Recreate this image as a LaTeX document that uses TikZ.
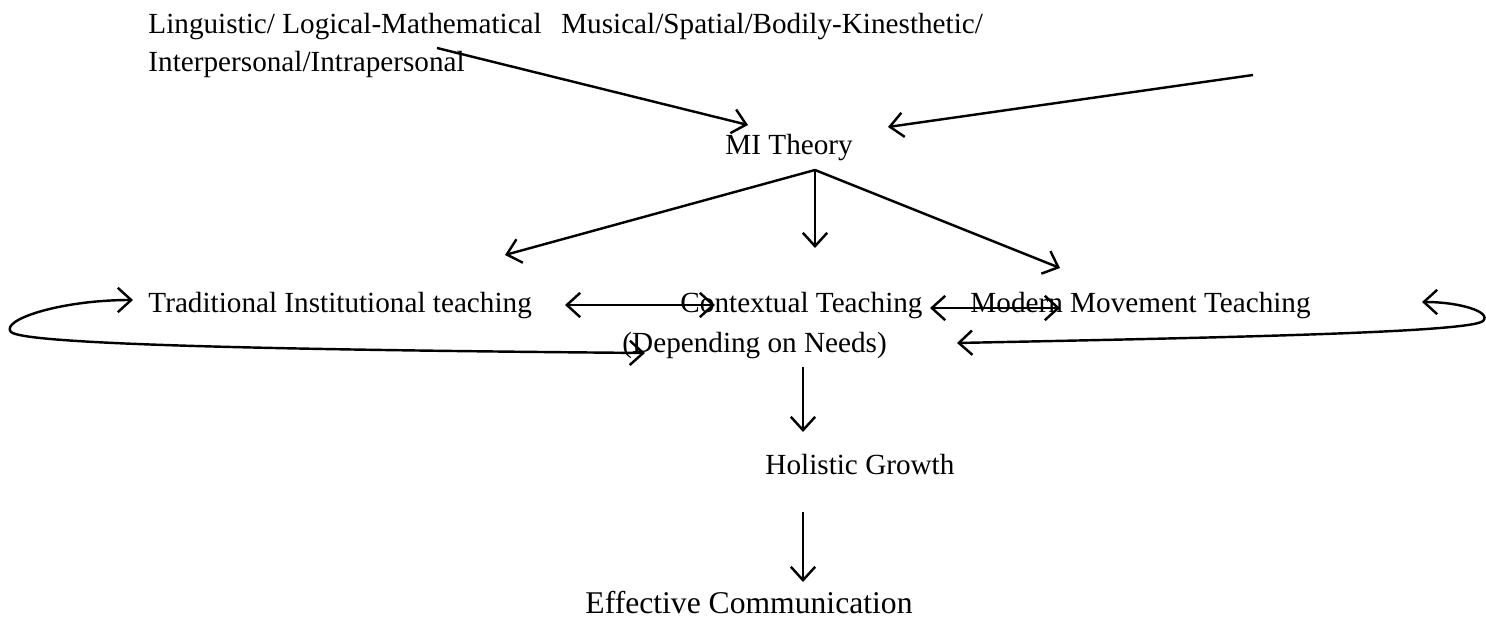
\documentclass[tikz,border=0pt]{standalone}
\usepackage{fontspec}
\setmainfont{Liberation Serif}
\usetikzlibrary{arrows.meta}
\begin{document}
\begin{tikzpicture}[x=0.411pt,y=-0.411pt,
  txt/.style={anchor=base west, inner sep=0pt, font=\fontsize{12}{14}\selectfont},
  arr/.style={-{Straight Barb[length=5.5pt,width=10pt]}, line width=1pt},
  darr/.style={{Straight Barb[length=5.5pt,width=10pt]}-{Straight Barb[length=5.5pt,width=10pt]}, line width=1pt}]
\useasboundingbox (0,0) rectangle (1486,625);
% texts
\node[txt] (ling) at (148,34) {Linguistic/ Logical-Mathematical\hspace{8pt}Musical/Spatial/Bodily-Kinesthetic/};
\node[txt] (intra) at (148,72) {Interpersonal/Intrapersonal};
\node[txt] (mi) at (725,155) {MI Theory};
\node[txt] (trad) at (148,313) {Traditional Institutional teaching};
\node[txt] (ctx) at (680,313) {Contextual Teaching};
\node[txt] (mod) at (970,313) {Modern Movement Teaching};
\node[txt] (dep) at (622,353) {(Depending on Needs)};
\node[txt] (hol) at (765,475) {Holistic Growth};
\node[txt,font=\fontsize{13}{15}\selectfont] (eff) at (585,614) {Effective Communication};
% arrow ends
\coordinate (lingout) at (437,48);
\coordinate (miinl) at (748,125);
\coordinate (free) at (1253,75);
\coordinate (miinr) at (888,127);
\coordinate (fork) at (815,170);
\coordinate (tradin) at (505,255);
\coordinate (ctxin) at (815,248);
\coordinate (modin) at (1060,268);
\coordinate (tradr) at (565,305);
\coordinate (ctxl) at (715,305);
\coordinate (ctxr) at (930,308);
\coordinate (modl) at (1060,308);
\coordinate (tradl) at (133,300);
\coordinate (depl) at (645,353);
\coordinate (modr) at (1422,302);
\coordinate (depr) at (957,343);
\coordinate (depout) at (803,367);
\coordinate (holin) at (803,432);
\coordinate (holout) at (803,512);
\coordinate (effin) at (803,582);
% connectors
\draw[arr] (lingout) -- (miinl);
\draw[arr] (free) -- (miinr);
\draw[arr] (fork) -- (tradin);
\draw[arr] (fork) -- (ctxin);
\draw[arr] (fork) -- (modin);
\draw[darr] (tradr) -- (ctxl);
\draw[darr] (ctxr) -- (modl);
\draw[darr] (tradl) .. controls (60,300) and (0,320) .. (11,332) .. controls (25,345) and (300,350) .. (depl);
\draw[darr] (modr) .. controls (1460,302) and (1492,312) .. (1483,321) .. controls (1470,333) and (1200,338) .. (depr);
\draw[arr] (depout) -- (holin);
\draw[arr] (holout) -- (effin);
\end{tikzpicture}
\end{document}
